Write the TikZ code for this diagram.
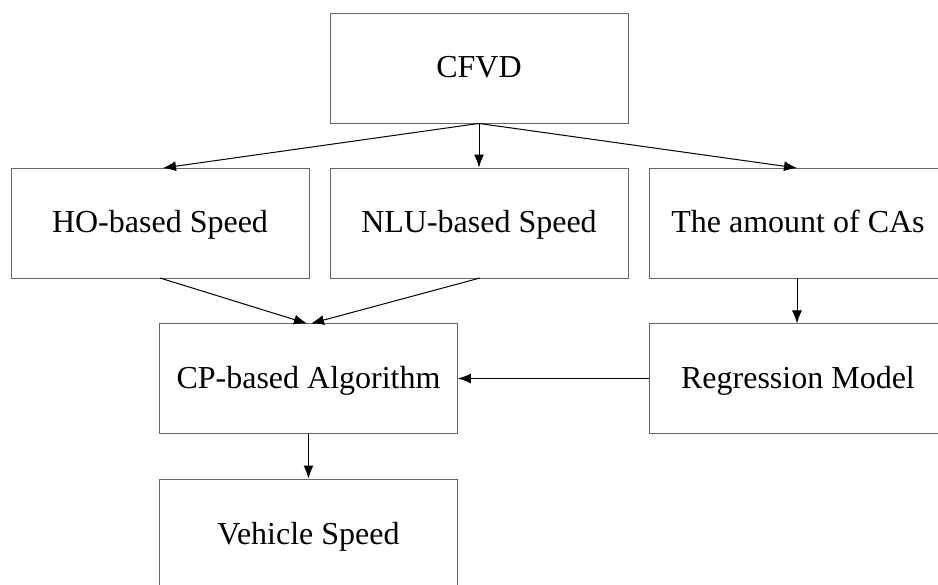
\documentclass[tikz,border=0pt]{standalone}
\usepackage{fontspec}
\setmainfont{Liberation Serif}
\usetikzlibrary{arrows.meta}
\begin{document}
\begin{tikzpicture}[x=1pt,y=-1pt,
  box/.style={draw=black!60,line width=0.9pt,minimum width=298pt,minimum height=110pt,inner sep=0pt,text height=21pt,text depth=1pt,font=\fontsize{32}{36}\selectfont},
  arr/.style={draw=black,line width=1pt,-{Latex[length=13pt,width=10pt]}}]
\clip (0,0) rectangle (938,585);
\fill[white] (0,0) rectangle (938,585);
\node[box] (cfvd) at (479,68) {CFVD};
\node[box] (ho) at (160,223) {HO-based Speed};
\node[box] (nlu) at (479,223) {NLU-based Speed};
\node[box] (cas) at (798,223) {The amount of CAs};
\node[box] (cp) at (308.5,378.5) {CP-based Algorithm};
\node[box] (reg) at (798,378.5) {Regression Model};
\node[box] (veh) at (308.5,534) {Vehicle Speed};
\draw[arr] (cfvd.south) -- (163,168);
\draw[arr] (cfvd.south) -- (nlu.north);
\draw[arr] (cfvd.south) -- (797,168);
\draw[arr] (160,278) -- (307,323.5);
\draw[arr] (480,278) -- (311,323.5);
\draw[arr] (797,278) -- (797,323.5);
\draw[arr] (reg.west) -- (cp.east);
\draw[arr] (cp.south) -- (veh.north);
\end{tikzpicture}
\end{document}
